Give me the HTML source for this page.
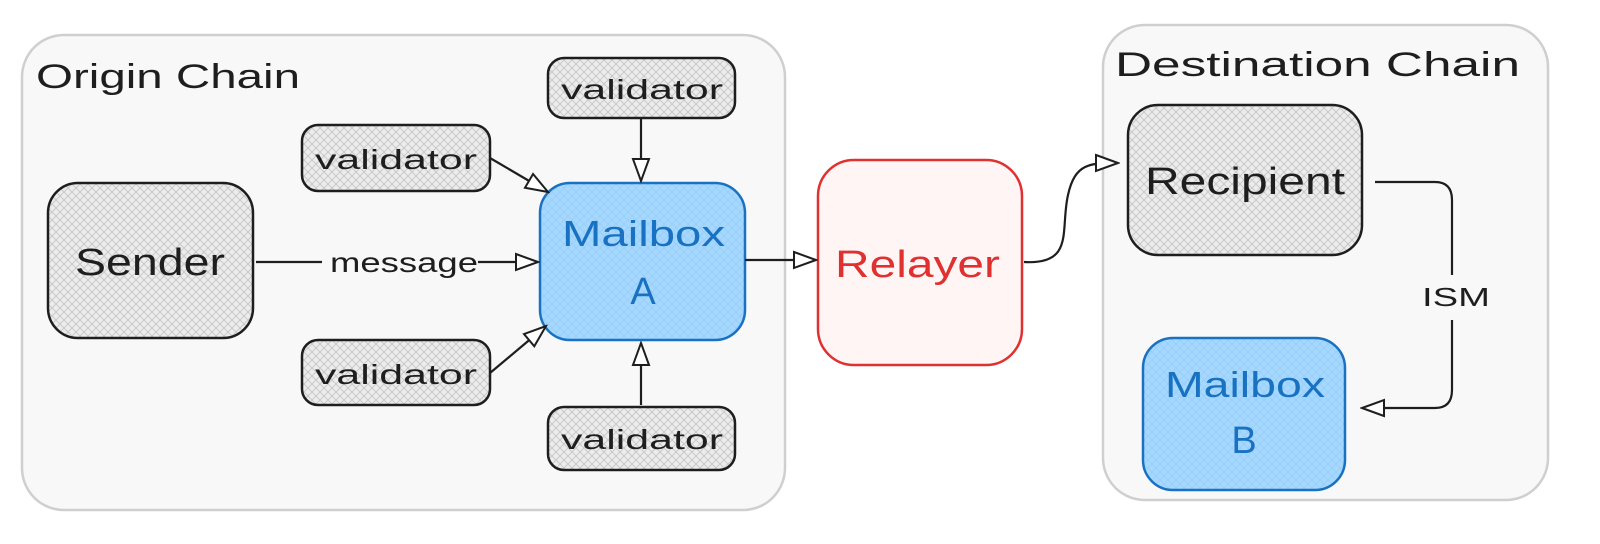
<!DOCTYPE html>
<html><head><meta charset="utf-8"><style>
html,body{margin:0;padding:0;background:#fff;}
svg{display:block;}
text{font-family:"Liberation Sans",sans-serif;}
</style></head><body>
<svg width="1600" height="544" viewBox="0 0 1600 544" xmlns="http://www.w3.org/2000/svg">
<defs>
<pattern id="h" width="8" height="8" patternUnits="userSpaceOnUse">
<rect width="8" height="8" fill="#ececec"/>
<path d="M0 0L8 8M8 0L0 8" stroke="#c4c4c4" stroke-width="0.8"/>
</pattern>
<pattern id="hb" width="8" height="8" patternUnits="userSpaceOnUse">
<rect width="8" height="8" fill="#a5d8ff"/>
<path d="M0 0L8 8M8 0L0 8" stroke="#94c9f5" stroke-width="0.6"/>
</pattern>
<marker id="a" markerWidth="26" markerHeight="20" refX="24" refY="10" orient="auto" markerUnits="userSpaceOnUse">
<path d="M2 2L24 10L2 18Z" fill="#fff" stroke="#1e1e1e" stroke-width="2"/>
</marker>
</defs>
<rect x="22" y="35" width="763" height="475" rx="42" fill="#f8f8f8" stroke="#cfcfcf" stroke-width="2.5"/>
<rect x="1103" y="25" width="445" height="475" rx="42" fill="#f8f8f8" stroke="#cfcfcf" stroke-width="2.5"/>
<text x="36" y="88" font-size="34" fill="#1e1e1e" textLength="264" lengthAdjust="spacingAndGlyphs">Origin Chain</text>
<text x="1115" y="76" font-size="34" fill="#1e1e1e" textLength="405" lengthAdjust="spacingAndGlyphs">Destination Chain</text>

<rect x="48" y="183" width="205" height="155" rx="30" fill="url(#h)" stroke="#1e1e1e" stroke-width="2.5"/>
<text x="75" y="275" font-size="38" fill="#1e1e1e" textLength="150" lengthAdjust="spacingAndGlyphs">Sender</text>

<rect x="548" y="58" width="187" height="60" rx="16" fill="url(#h)" stroke="#1e1e1e" stroke-width="2.5"/>
<text x="561" y="99" font-size="28" fill="#1e1e1e" textLength="162" lengthAdjust="spacingAndGlyphs">validator</text>
<rect x="302" y="125" width="188" height="66" rx="16" fill="url(#h)" stroke="#1e1e1e" stroke-width="2.5"/>
<text x="315" y="169" font-size="28" fill="#1e1e1e" textLength="162" lengthAdjust="spacingAndGlyphs">validator</text>
<rect x="302" y="340" width="188" height="65" rx="16" fill="url(#h)" stroke="#1e1e1e" stroke-width="2.5"/>
<text x="315" y="384" font-size="28" fill="#1e1e1e" textLength="162" lengthAdjust="spacingAndGlyphs">validator</text>
<rect x="548" y="407" width="187" height="63" rx="16" fill="url(#h)" stroke="#1e1e1e" stroke-width="2.5"/>
<text x="561" y="449" font-size="28" fill="#1e1e1e" textLength="162" lengthAdjust="spacingAndGlyphs">validator</text>

<rect x="540" y="183" width="205" height="157" rx="30" fill="url(#hb)" stroke="#1971c2" stroke-width="2.5"/>
<text x="562" y="246" font-size="36" fill="#1971c2" textLength="163" lengthAdjust="spacingAndGlyphs">Mailbox</text>
<text x="643" y="304" font-size="38" text-anchor="middle" fill="#1971c2">A</text>

<rect x="818" y="160" width="204" height="205" rx="36" fill="#fff5f5" stroke="#e03131" stroke-width="2.5"/>
<text x="835" y="277" font-size="38" fill="#e03131" textLength="165" lengthAdjust="spacingAndGlyphs">Relayer</text>

<rect x="1128" y="105" width="234" height="150" rx="30" fill="url(#h)" stroke="#1e1e1e" stroke-width="2.5"/>
<text x="1145" y="194" font-size="38" fill="#1e1e1e" textLength="200" lengthAdjust="spacingAndGlyphs">Recipient</text>

<rect x="1143" y="338" width="202" height="152" rx="30" fill="url(#hb)" stroke="#1971c2" stroke-width="2.5"/>
<text x="1165" y="397" font-size="36" fill="#1971c2" textLength="160" lengthAdjust="spacingAndGlyphs">Mailbox</text>
<text x="1244" y="453" font-size="38" text-anchor="middle" fill="#1971c2">B</text>

<g fill="none" stroke="#1e1e1e" stroke-width="2.2">
<path d="M256 262L322 262" />
<path d="M478 262L538 262" marker-end="url(#a)"/>
<path d="M490 158L548 192" marker-end="url(#a)"/>
<path d="M490 373L546 326" marker-end="url(#a)"/>
<path d="M641 118L641 181" marker-end="url(#a)"/>
<path d="M641 405L641 343" marker-end="url(#a)"/>
<path d="M745 260L816 260" marker-end="url(#a)"/>
<path d="M1024 262C1075 265 1060 230 1068 195C1075 163 1090 163 1118 163" marker-end="url(#a)"/>
<path d="M1375 182L1435 182Q1452 182 1452 200L1452 275"/>
<path d="M1452 320L1452 390Q1452 408 1435 408L1362 408" marker-end="url(#a)"/>
</g>
<text x="330" y="272" font-size="28" fill="#1e1e1e" textLength="148" lengthAdjust="spacingAndGlyphs">message</text>
<text x="1422" y="306" font-size="26" fill="#1e1e1e" textLength="68" lengthAdjust="spacingAndGlyphs">ISM</text>
</svg>
</body></html>
